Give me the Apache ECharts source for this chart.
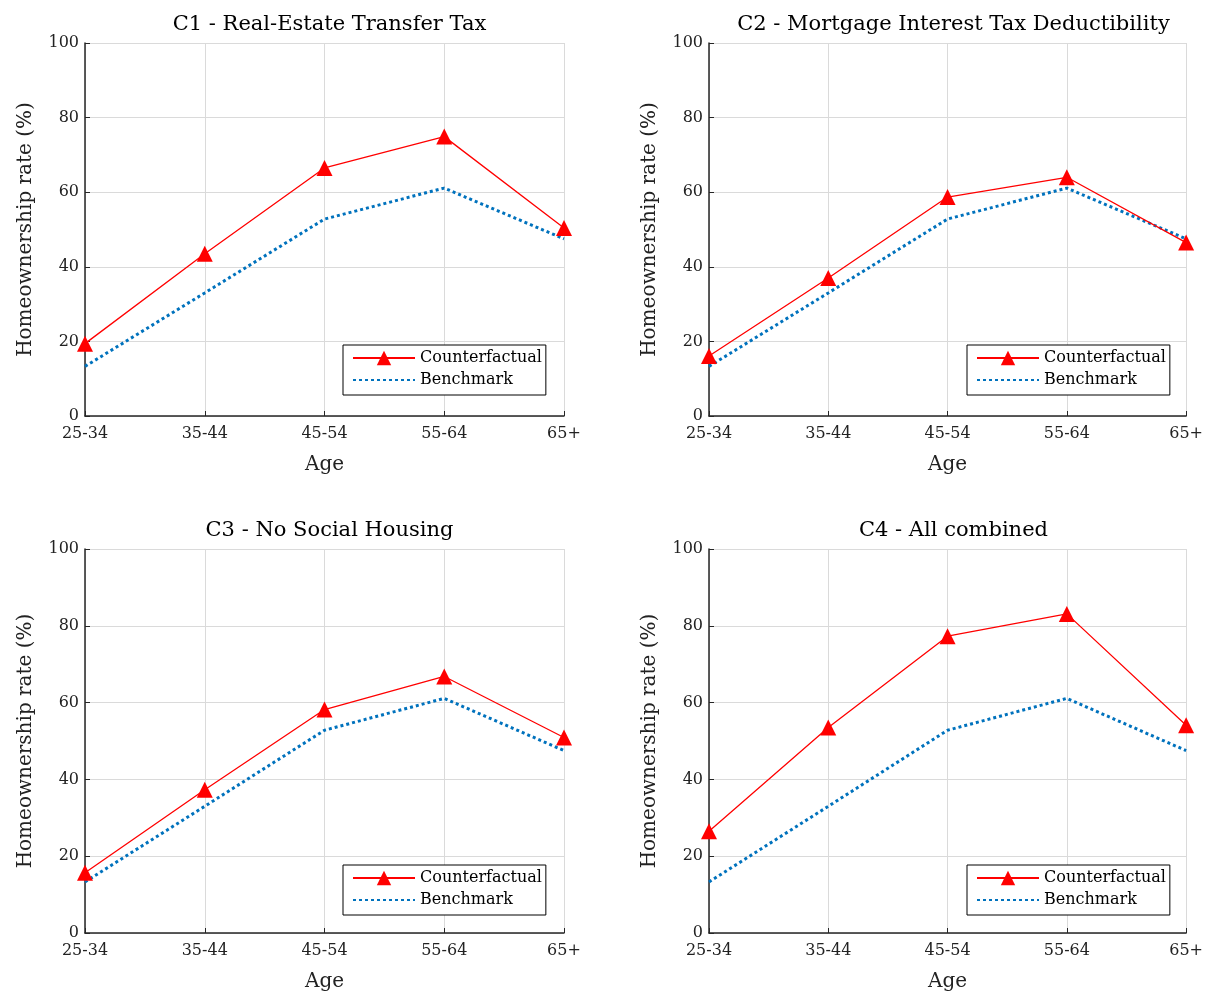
<!DOCTYPE html>
<html>
<head>
<meta charset="utf-8">
<script src="https://cdn.jsdelivr.net/npm/echarts@6/dist/echarts.min.js"></script>
<style>
  html, body { margin: 0; padding: 0; background: #fff; }
  #main { width: 1206px; height: 993px; }
</style>
</head>
<body>
<div id="main"></div>
<script>
// data
var ages = ['25-34', '35-44', '45-54', '55-64', '65+'];
var benchmark = [13.3, 33.0, 52.8, 61.1, 47.5];
var c1 = [19.4, 43.5, 66.5, 74.9, 50.4];
var c2 = [16.1, 37.0, 58.7, 64.0, 46.5];
var c3 = [15.7, 37.3, 58.2, 66.8, 50.9];
var c4 = [26.5, 53.5, 77.3, 83.1, 54.1];
var titles = [
  'C1 - Real-Estate Transfer Tax',
  'C2 - Mortgage Interest Tax Deductibility',
  'C3 - No Social Housing',
  'C4 - All combined'
];
var counterfactuals = [c1, c2, c3, c4];

var font = '"DejaVu Serif", "Liberation Serif", serif';
var axisColor = '#262626';

// panel boxes (left, top, width, height)
var panels = [
  { left: 85, top: 43, width: 479, height: 373 },
  { left: 709, top: 43, width: 479, height: 373 },
  { left: 85, top: 549, width: 479, height: 387 },
  { left: 709, top: 549, width: 479, height: 387 }
];

var option = {
  backgroundColor: '#fff',
  animation: false,
  title: [],
  legend: [],
  grid: [],
  xAxis: [],
  yAxis: [],
  series: []
};

panels.forEach(function (p, i) {
  option.grid.push({ left: p.left, top: p.top, width: p.width, height: p.height, containLabel: false });
  option.title.push({
    text: titles[i],
    left: p.left + p.width / 2,
    top: p.top - 34,
    textAlign: 'center',
    textStyle: { fontFamily: font, fontSize: 21, fontWeight: 'normal', color: '#000' }
  });
  option.legend.push({
    data: [
      { name: 'Counterfactual' },
      { name: 'Benchmark', itemStyle: { opacity: 0 } }
    ],
    orient: 'vertical',
    left: p.left + 258,
    top: p.top + p.height - 71,
    padding: [5, 4, 7, 9],
    itemWidth: 62,
    itemHeight: 18,
    itemGap: 6,
    borderColor: '#000',
    borderWidth: 1,
    backgroundColor: '#fff',
    selectedMode: false,
    textStyle: { fontFamily: font, fontSize: 16, color: '#000' }
  });
  option.xAxis.push({
    type: 'category',
    gridIndex: i,
    data: ages,
    boundaryGap: false,
    name: 'Age',
    nameLocation: 'middle',
    nameGap: 39,
    nameTextStyle: { fontFamily: font, fontSize: 20, color: '#222' },
    axisLine: { lineStyle: { color: axisColor, width: 1.5 } },
    axisTick: { inside: true, length: 5, alignWithLabel: true, lineStyle: { color: axisColor } },
    axisLabel: { fontFamily: font, fontSize: 16, color: '#222', margin: 10 },
    splitLine: { show: true, lineStyle: { color: '#dadada', width: 1 } }
  });
  option.yAxis.push({
    type: 'value',
    gridIndex: i,
    min: 0,
    max: 100,
    interval: 20,
    name: 'Homeownership rate (%)',
    nameLocation: 'middle',
    nameGap: 49,
    nameRotate: 90,
    nameTextStyle: { fontFamily: font, fontSize: 20, color: '#222' },
    axisLine: { show: true, lineStyle: { color: axisColor, width: 1.5 } },
    axisTick: { show: true, inside: true, length: 5, lineStyle: { color: axisColor } },
    axisLabel: { fontFamily: font, fontSize: 16, color: '#222', margin: 6 },
    splitLine: { show: true, lineStyle: { color: '#dadada', width: 1 } }
  });
  option.series.push({
    name: 'Counterfactual',
    type: 'line',
    xAxisIndex: i,
    yAxisIndex: i,
    data: counterfactuals[i],
    symbol: 'triangle',
    symbolSize: 16,
    showAllSymbol: true,
    itemStyle: { color: '#ff0000' },
    lineStyle: { color: '#ff0000', width: 1.3 },
    z: 3
  });
  option.series.push({
    name: 'Benchmark',
    type: 'line',
    xAxisIndex: i,
    yAxisIndex: i,
    data: benchmark,
    symbol: 'none',
    itemStyle: { color: '#0072bd' },
    lineStyle: { color: '#0072bd', width: 3, type: [3, 3] },
    z: 2
  });
});

var myChart = echarts.init(document.getElementById('main'));
myChart.setOption(option);
</script>
</body>
</html>
